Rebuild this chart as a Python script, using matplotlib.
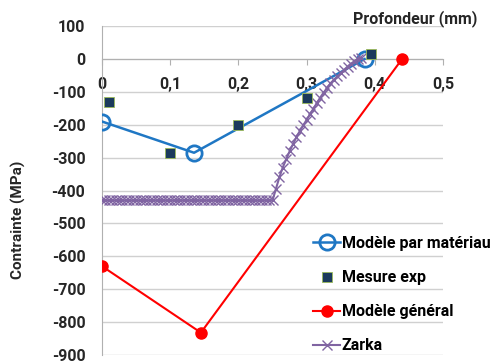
import matplotlib.pyplot as plt

plt.rcParams['font.family'] = ['Roboto', 'DejaVu Sans']
plt.rcParams['font.weight'] = 'bold'

# Modele par materiau
mat_x = [0.0, 0.135, 0.385]
mat_y = [-190, -285, 0]

# Mesure exp
exp_x = [0.01, 0.1, 0.2, 0.3, 0.395]
exp_y = [-132, -285, -202, -117, 16]

# Modele general
gen_x = [0.0, 0.145, 0.44]
gen_y = [-630, -832, 0]

# Zarka
zarka_x = [0.000, 0.005, 0.010, 0.015, 0.020, 0.025, 0.030, 0.035, 0.040, 0.045,
           0.050, 0.055, 0.060, 0.065, 0.070, 0.075, 0.080, 0.085, 0.090, 0.095,
           0.100, 0.105, 0.110, 0.115, 0.120, 0.125, 0.130, 0.135, 0.140, 0.145,
           0.150, 0.155, 0.160, 0.165, 0.170, 0.175, 0.180, 0.185, 0.190, 0.195,
           0.200, 0.205, 0.210, 0.215, 0.220, 0.225, 0.230, 0.235, 0.240, 0.245,
           0.250, 0.255, 0.260, 0.265, 0.270, 0.275, 0.280, 0.285, 0.290, 0.295,
           0.300, 0.305, 0.310, 0.315, 0.320, 0.325, 0.330, 0.335, 0.340, 0.345,
           0.350, 0.355, 0.360, 0.365, 0.370, 0.375, 0.380]
zarka_y = [-430, -430, -430, -430, -430, -430, -430, -430, -430, -430,
           -430, -430, -430, -430, -430, -430, -430, -430, -430, -430,
           -430, -430, -430, -430, -430, -430, -430, -430, -430, -430,
           -430, -430, -430, -430, -430, -430, -430, -430, -430, -430,
           -430, -430, -430, -430, -430, -430, -430, -430, -430, -430,
           -430, -395, -360, -330, -305, -281, -259, -238, -219, -202,
           -185, -168, -151, -134, -117, -102, -88, -74, -63, -53,
           -43, -33, -23, -14, -7, -1, 4]

xticks = [0, 0.1, 0.2, 0.3, 0.4, 0.5]
xlabels = ['0', '0,1', '0,2', '0,3', '0,4', '0,5']
yticks = [100, 0, -100, -200, -300, -400, -500, -600, -700, -800, -900]

fig = plt.figure(figsize=(5, 3.63), dpi=100)
ax = fig.add_axes([0.204, 0.022, 0.682, 0.906])

ax.plot(mat_x, mat_y, '-o', color='#1f77c4', lw=1.8, ms=11, mfc='none',
        mew=2, label='Modèle par matériau', zorder=3)
ax.plot(exp_x, exp_y, 's', color='#1b3a5c', ms=6.5, mec='#9bbb59', mew=0.6,
        label='Mesure exp', zorder=5)
ax.plot(gen_x, gen_y, '-o', color='#ff0000', lw=1.5, ms=8,
        label='Modèle général', zorder=3)
ax.plot(zarka_x, zarka_y, '-x', color='#8064a2', lw=1.5, ms=6.5, mew=1,
        label='Zarka', zorder=4)

ax.set_xlim(0, 0.5)
ax.set_ylim(-900, 100)
ax.set_xticks(xticks)
ax.set_xticklabels(xlabels)
ax.set_yticks(yticks)
ax.set_yticklabels([str(v) for v in yticks])
ax.grid(axis='y', color='#d0d0d0', lw=1)
ax.set_axisbelow(True)

for s in ['top', 'right']:
    ax.spines[s].set_visible(False)
ax.spines['bottom'].set_position(('data', 0))
ax.spines['bottom'].set_color('#b0b0b0')
ax.spines['left'].set_color('#b0b0b0')
ax.tick_params(axis='x', length=4, color='#b0b0b0', labelsize=11.5,
               labelcolor='#262626', pad=9)
ax.tick_params(axis='y', length=0, labelsize=11.5, labelcolor='#262626', pad=12)

fig.text(0.83, 0.948, 'Profondeur (mm)', ha='center', va='center',
         fontsize=11.5, color='#262626')
fig.text(0.036, 0.395, 'Contrainte (MPa)', ha='center', va='center',
         rotation=90, fontsize=11, color='#262626')

fig.legend(loc='upper left', bbox_to_anchor=(0.626, 0.35), frameon=False,
           fontsize=11.5, handlelength=1.7, handletextpad=0.1, labelspacing=1.2,
           borderpad=0, borderaxespad=0)

fig.savefig('out.png', dpi=100)
